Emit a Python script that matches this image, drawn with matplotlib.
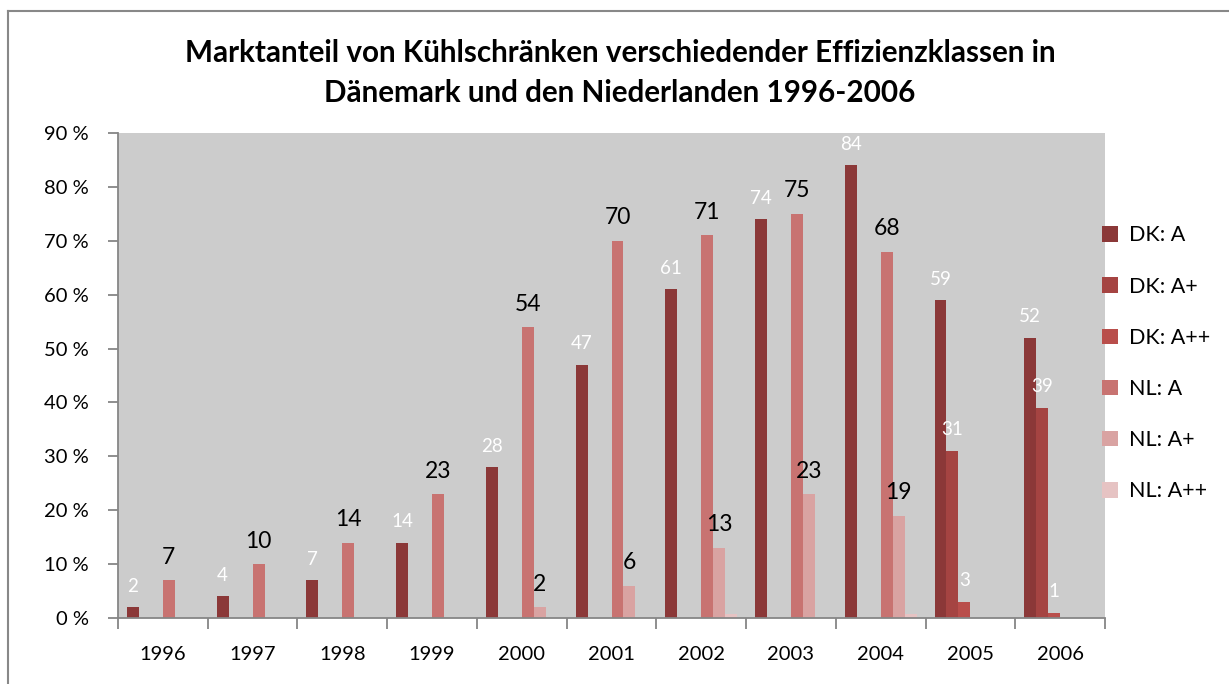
import numpy as np
import matplotlib.pyplot as plt
from matplotlib.patches import Patch
from matplotlib.lines import Line2D

plt.rcParams['font.family'] = ['Lato', 'DejaVu Sans']

years = ['1996', '1997', '1998', '1999', '2000', '2001', '2002', '2003', '2004', '2005', '2006']
series_names = ['DK: A', 'DK: A+', 'DK: A++', 'NL: A', 'NL: A+', 'NL: A++']

dk_a = [2, 4, 7, 14, 28, 47, 61, 74, 84, 59, 52]
dk_a_plus = [None, None, None, None, None, None, None, None, None, 31, 39]
dk_a_plusplus = [None, None, None, None, None, None, None, None, None, 3, 1]
nl_a = [7, 10, 14, 23, 54, 70, 71, 75, 68, None, None]
nl_a_plus = [None, None, None, None, 2, 6, 13, 23, 19, None, None]
nl_a_plusplus = [None, None, None, None, None, None, 0.7, None, 0.7, None, None]

series = [dk_a, dk_a_plus, dk_a_plusplus, nl_a, nl_a_plus, nl_a_plusplus]
colors = ['#8b3838', '#a54442', '#b94e4b', '#c87371', '#d9a3a2', '#e6c3c3']
show_labels = [True, True, True, True, True, False]

fig = plt.figure(figsize=(12.29, 6.84), dpi=100)
ax = fig.add_axes([118 / 1229, 1 - 618 / 684, (1105 - 118) / 1229, (618 - 133) / 684])
ax.set_facecolor('#cccccc')

x = np.arange(len(years))
w = 0.8 / 6
for j, (vals, c) in enumerate(zip(series, colors)):
    v = np.array([np.nan if a is None else a for a in vals], dtype=float)
    pos = x + (j - 2.5) * w
    ax.bar(pos, v, width=w, color=c, zorder=2)
    if not show_labels[j]:
        continue
    for p, a in zip(pos, v):
        if np.isnan(a):
            continue
        if j < 3:
            ax.annotate(f'{a:g}', (p, a), xytext=(0, 9), textcoords='offset points',
                        ha='center', va='bottom', color='white', fontsize=13.5)
        else:
            ax.annotate(f'{a:g}', (p, a), xytext=(0, 9), textcoords='offset points',
                        ha='center', va='bottom', color='black', fontsize=16.5)

ax.set_xlim(-0.5, len(years) - 0.5)
ax.set_ylim(0, 90)
ax.set_yticks(range(0, 91, 10))
ax.set_yticklabels([f'{t} %' for t in range(0, 91, 10)], fontsize=14.5)
ax.set_xticks(x)
ax.set_xticklabels(years, fontsize=14.5)
ax.set_xticks(np.arange(-0.5, len(years)), minor=True)
ax.tick_params(axis='x', which='major', length=0, pad=20)
ax.tick_params(axis='x', which='minor', length=8, width=1.3, color='#868686')
ax.tick_params(axis='y', length=7, width=1.3, color='#868686', pad=14)

for s in ['top', 'right']:
    ax.spines[s].set_visible(False)
for s in ['left', 'bottom']:
    ax.spines[s].set_color('#868686')
    ax.spines[s].set_linewidth(1.3)

fig.text(620 / 1229, 1 - 53 / 684, 'Marktanteil von Kühlschränken verschiedender Effizienzklassen in',
         ha='center', va='center', fontsize=21.3, fontweight='bold')
fig.text(620 / 1229, 1 - 93 / 684, 'Dänemark und den Niederlanden 1996-2006',
         ha='center', va='center', fontsize=21.3, fontweight='bold')

handles = [Patch(facecolor=c, label=n) for c, n in zip(colors, series_names)]
fig.legend(handles=handles, loc='upper left', bbox_to_anchor=(1083 / 1229, 1 - 206 / 684),
           frameon=False, fontsize=15.5, handlelength=0.72, handleheight=0.72,
           labelspacing=1.45, handletextpad=0.5)

# chart frame
fig.add_artist(Line2D([8 / 1229, 1.0], [1 - 11 / 684, 1 - 11 / 684], color='#888888', lw=1.5))
fig.add_artist(Line2D([8 / 1229, 8 / 1229], [0, 1 - 11 / 684], color='#888888', lw=1.5))

fig.savefig('out.png', dpi=100)
